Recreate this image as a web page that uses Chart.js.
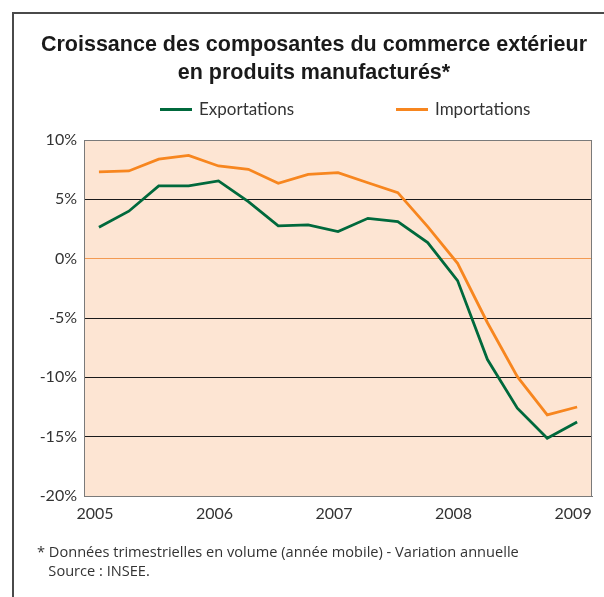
<!DOCTYPE html>
<html lang="fr">
<head>
<meta charset="utf-8">
<title>Commerce extérieur</title>
<script src="https://cdn.jsdelivr.net/npm/chart.js@4.4.1/dist/chart.umd.min.js"></script>
<style>
    html, body { margin: 0; padding: 0; background: #fff; }
    #frame {
        position: absolute; left: 12px; top: 12px; width: 640px; height: 640px;
        border-left: 2px solid #4a4a4a; border-top: 2px solid #4a4a4a;
    }
    #wrap { position: absolute; left: 0; top: 0; width: 604px; height: 597px; }
    #note {
        position: absolute; left: 37px; top: 542px;
        font-family: "Open Sans", Lato, sans-serif; font-size: 14.6px; line-height: 19px; color: #333;
    }
</style>
</head>
<body>
<div id="frame"></div>
<div id="wrap"><canvas id="chart1"></canvas></div>
<div id="note">* Données trimestrielles en volume (année mobile) - Variation annuelle<br>&nbsp;&nbsp; Source : INSEE.</div>
<script>
// quarterly points, 2005 T1 -> 2009 T1
const quarters = [
    '2005 T1', '2005 T2', '2005 T3', '2005 T4',
    '2006 T1', '2006 T2', '2006 T3', '2006 T4',
    '2007 T1', '2007 T2', '2007 T3', '2007 T4',
    '2008 T1', '2008 T2', '2008 T3', '2008 T4',
    '2009 T1'
];
const yearLabels = ['2005', '2006', '2007', '2008', '2009'];
const exportations = [2.65, 4.0, 6.13, 6.13, 6.55, 4.8, 2.76, 2.84, 2.28, 3.4, 3.12, 1.35, -1.85, -8.5, -12.6, -15.13, -13.76];
const importations = [7.31, 7.39, 8.38, 8.71, 7.81, 7.53, 6.35, 7.11, 7.25, 6.4, 5.56, 2.7, -0.39, -5.4, -9.94, -13.17, -12.5];
const yMin = -20;
const yMax = 10;
const yStep = 5;

const green = '#00693c';
const orange = '#f7861f';

// peach plot background + right border
const plotBox = {
    id: 'plotBox',
    beforeDraw(chart) {
        const a = chart.chartArea;
        const ctx = chart.ctx;
        ctx.save();
        ctx.fillStyle = '#fde5d3';
        ctx.fillRect(a.left, a.top, a.right - a.left, a.bottom - a.top);
        ctx.restore();
    },
    beforeDatasetsDraw(chart) {
        const a = chart.chartArea;
        const ctx = chart.ctx;
        ctx.save();
        ctx.strokeStyle = '#7a7a7a';
        ctx.lineWidth = 1;
        ctx.beginPath();
        ctx.moveTo(Math.round(a.right) - 0.5, a.top);
        ctx.lineTo(Math.round(a.right) - 0.5, a.bottom);
        ctx.stroke();
        ctx.restore();
    }
};

// legend row drawn above the plot
const lineLegend = {
    id: 'lineLegend',
    afterDraw(chart) {
        const a = chart.chartArea;
        const ctx = chart.ctx;
        const y = a.top - 30.5;
        const starts = [a.left + 76, a.left + 312];
        ctx.save();
        ctx.font = '17px Lato, "Open Sans", sans-serif';
        ctx.textBaseline = 'middle';
        ctx.textAlign = 'left';
        chart.data.datasets.forEach((ds, i) => {
            const x = starts[i];
            ctx.strokeStyle = ds.borderColor;
            ctx.lineWidth = 3;
            ctx.beginPath();
            ctx.moveTo(x, y);
            ctx.lineTo(x + 32, y);
            ctx.stroke();
            ctx.fillStyle = '#333';
            ctx.fillText(ds.label, x + 39, y);
        });
        ctx.restore();
    }
};

function gridColor(ctx) {
    const v = ctx.tick ? ctx.tick.value : null;
    if (v === 0) return '#f39a52';
    if (v === yMax || v === yMin) return '#7a7a7a';
    return '#1a1a1a';
}

const chart = new Chart(document.getElementById('chart1'), {
    type: 'line',
    data: {
        labels: quarters,
        datasets: [{
            label: 'Exportations',
            data: exportations,
            borderColor: green,
            backgroundColor: green,
            borderWidth: 2.8,
            pointRadius: 0,
            tension: 0
        }, {
            label: 'Importations',
            data: importations,
            borderColor: orange,
            backgroundColor: orange,
            borderWidth: 2.8,
            pointRadius: 0,
            tension: 0
        }]
    },
    options: {
        responsive: true,
        maintainAspectRatio: false,
        animation: false,
        layout: {
            padding: { left: 35, right: 11, top: 0, bottom: 71 }
        },
        scales: {
            x: {
                offset: true,
                grid: { display: false, drawTicks: false },
                border: { color: '#7a7a7a', width: 1 },
                ticks: {
                    autoSkip: false,
                    maxRotation: 0,
                    padding: 8,
                    labelOffset: -4,
                    color: '#333',
                    font: { family: 'Lato, "Open Sans", sans-serif', size: 16 },
                    callback: (v, i) => (i % 4 === 0 ? yearLabels[i / 4] : '')
                },
                afterFit: (s) => { s.height = 30; }
            },
            y: {
                min: yMin,
                max: yMax,
                grid: { color: gridColor, lineWidth: 1, drawTicks: false },
                border: { color: '#7a7a7a', width: 1 },
                ticks: {
                    stepSize: yStep,
                    padding: 7,
                    color: '#333',
                    font: { family: 'Lato, "Open Sans", sans-serif', size: 16 },
                    callback: (v) => v + '%'
                },
                afterFit: (s) => { s.width = 49; }
            }
        },
        plugins: {
            legend: { display: false },
            tooltip: { enabled: false },
            title: {
                display: true,
                text: ['Croissance des composantes du commerce extérieur', 'en produits manufacturés*'],
                color: '#1a1a1a',
                font: { family: '"Liberation Sans", Arial, sans-serif', size: 21.5, weight: 'bold', lineHeight: '28px' },
                padding: { top: 30.7, bottom: 53.3 }
            }
        }
    },
    plugins: [plotBox, lineLegend]
});
</script>
</body>
</html>
